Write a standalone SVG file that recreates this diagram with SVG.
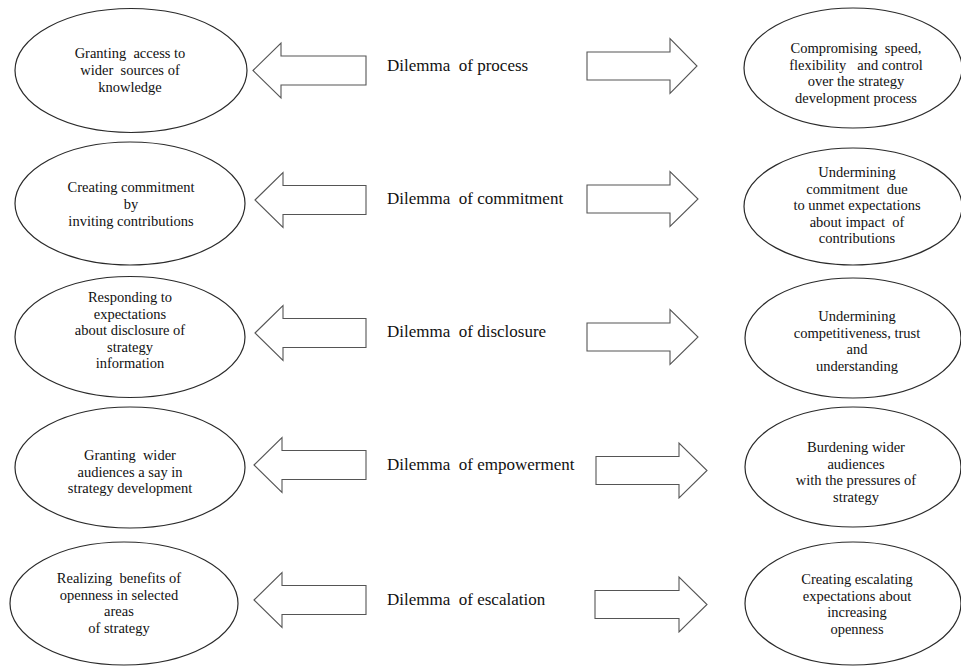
<svg xmlns="http://www.w3.org/2000/svg" width="961" height="666" viewBox="0 0 961 666">
<style>
  .bg{fill:#ffffff}
  .node ellipse{fill:#ffffff;stroke:#2a2a2a;stroke-width:1.2}
  .node text{font-size:14.5px;fill:#111;text-anchor:middle;white-space:pre}
  .label text{font-size:17px;fill:#111;white-space:pre}
  .arrow{fill:#ffffff;stroke:#555;stroke-width:1.1;stroke-linejoin:miter}
</style>
<rect class="bg" x="0" y="0" width="961" height="666"/>

<g id="connectors">
  <path class="arrow" d="M253,70.5 L281,43 L281,56 L366,56 L366,85 L281,85 L281,98 Z"/>
  <path class="arrow" d="M587,52 L670,52 L670,38.5 L697,66 L670,93.5 L670,80 L587,80 Z"/>

  <path class="arrow" d="M255,200 L283,172.5 L283,185.5 L366,185.5 L366,214.5 L283,214.5 L283,227.5 Z"/>
  <path class="arrow" d="M587,185 L670,185 L670,171.5 L698,199 L670,226.5 L670,213 L587,213 Z"/>

  <path class="arrow" d="M255,333 L283,305.5 L283,318.5 L366,318.5 L366,347.5 L283,347.5 L283,360.5 Z"/>
  <path class="arrow" d="M587,323 L670,323 L670,309.5 L698,337 L670,364.5 L670,351 L587,351 Z"/>

  <path class="arrow" d="M254,465 L282,437.5 L282,450.5 L366,450.5 L366,479.5 L282,479.5 L282,492.5 Z"/>
  <path class="arrow" d="M596,456.5 L679,456.5 L679,443 L707,470.5 L679,498 L679,484.5 L596,484.5 Z"/>

  <path class="arrow" d="M254,600 L282,572.5 L282,585.5 L366,585.5 L366,614.5 L282,614.5 L282,627.5 Z"/>
  <path class="arrow" d="M595,590.5 L679,590.5 L679,577 L707,604.5 L679,632 L679,618.5 L595,618.5 Z"/>
</g>

<g font-family="'Liberation Serif', 'DejaVu Serif', serif">
<g id="label-process" class="label"><text x="387" y="71">Dilemma  of process</text></g>
<g id="label-commitment" class="label"><text x="387" y="204">Dilemma  of commitment</text></g>
<g id="label-disclosure" class="label"><text x="387" y="337">Dilemma  of disclosure</text></g>
<g id="label-empowerment" class="label"><text x="387" y="470">Dilemma  of empowerment</text></g>
<g id="label-escalation" class="label"><text x="387" y="605">Dilemma  of escalation</text></g>

<g id="left-process" class="node">
  <ellipse cx="131" cy="70.5" rx="116" ry="62"/>
  <text x="130" y="58">Granting  access to</text>
  <text x="130" y="75">wider  sources of</text>
  <text x="130" y="92">knowledge</text>
</g>
<g id="right-process" class="node">
  <ellipse cx="853" cy="68" rx="109" ry="60"/>
  <text x="856" y="53">Compromising  speed,</text>
  <text x="856" y="69.5">flexibility   and control</text>
  <text x="856" y="86">over the strategy</text>
  <text x="856" y="102.5">development process</text>
</g>

<g id="left-commitment" class="node">
  <ellipse cx="130" cy="203.5" rx="115" ry="61.5"/>
  <text x="131" y="192">Creating commitment</text>
  <text x="131" y="209">by</text>
  <text x="131" y="226">inviting contributions</text>
</g>
<g id="right-commitment" class="node">
  <ellipse cx="853" cy="206.5" rx="109" ry="58.5"/>
  <text x="857" y="177">Undermining</text>
  <text x="857" y="193.5">commitment  due</text>
  <text x="857" y="210">to unmet expectations</text>
  <text x="857" y="226.5">about impact  of</text>
  <text x="857" y="243">contributions</text>
</g>

<g id="left-disclosure" class="node">
  <ellipse cx="130" cy="337" rx="115" ry="60.5"/>
  <text x="130" y="302">Responding to</text>
  <text x="130" y="318.5">expectations</text>
  <text x="130" y="335">about disclosure of</text>
  <text x="130" y="351.5">strategy</text>
  <text x="130" y="368">information</text>
</g>
<g id="right-disclosure" class="node">
  <ellipse cx="853" cy="338" rx="108" ry="60"/>
  <text x="857" y="321">Undermining</text>
  <text x="857" y="337.5">competitiveness, trust</text>
  <text x="857" y="354">and</text>
  <text x="857" y="370.5">understanding</text>
</g>

<g id="left-empowerment" class="node">
  <ellipse cx="130" cy="467.5" rx="115" ry="60.5"/>
  <text x="130" y="460">Granting  wider</text>
  <text x="130" y="476.5">audiences a say in</text>
  <text x="130" y="493">strategy development</text>
</g>
<g id="right-empowerment" class="node">
  <ellipse cx="853" cy="467" rx="108" ry="60"/>
  <text x="856" y="452">Burdening wider</text>
  <text x="856" y="468.5">audiences</text>
  <text x="856" y="485">with the pressures of</text>
  <text x="856" y="501.5">strategy</text>
</g>

<g id="left-escalation" class="node">
  <ellipse cx="124" cy="603.5" rx="114" ry="61.5"/>
  <text x="119" y="583">Realizing  benefits of</text>
  <text x="119" y="599.5">openness in selected</text>
  <text x="119" y="616">areas</text>
  <text x="119" y="632.5">of strategy</text>
</g>
<g id="right-escalation" class="node">
  <ellipse cx="853" cy="603.5" rx="108" ry="61.5"/>
  <text x="857" y="584">Creating escalating</text>
  <text x="857" y="600.5">expectations about</text>
  <text x="857" y="617">increasing</text>
  <text x="857" y="633.5">openness</text>
</g>
</g>
</svg>
